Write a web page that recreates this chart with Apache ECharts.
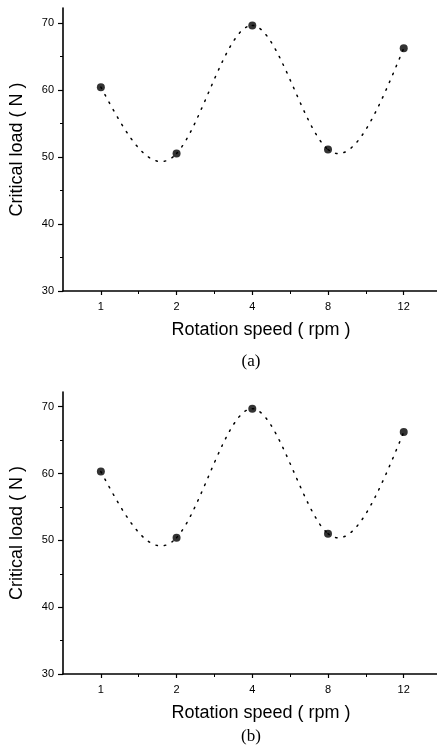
<!DOCTYPE html>
<html>
<head>
<meta charset="utf-8">
<script src="https://cdn.jsdelivr.net/npm/echarts@6/dist/echarts.min.js"></script>
<style>
html,body{margin:0;padding:0;background:#fff;}
#c{width:437px;height:755px;}
</style>
</head>
<body>
<div id="c"></div>
<script>
// ---- data ----
const categories = ['1', '2', '4', '8', '12'];
const loadA = [60.4, 50.5, 69.6, 51.1, 66.2];
const loadB = [60.3, 50.4, 69.7, 51.0, 66.2];
const yTicks = [30, 40, 50, 60, 70];
const yMinor = [35, 45, 55, 65];
const captions = ['(a)', '(b)'];
const xName = 'Rotation speed ( rpm )';
const yName = 'Critical load ( N )';

const catIdx = categories.map((c, i) => i);
const halfIdx = categories.map((c, i) => i + 0.5);

// natural cubic spline (uniform spacing h = 1) -> Bezier control points in data space
function splineCtrl(y) {
  const n = y.length;
  const M = new Array(n).fill(0);
  const a = [], b = [], c = [], d = [];
  for (let i = 1; i < n - 1; i++) {
    a.push(1); b.push(4); c.push(1); d.push(6 * (y[i + 1] - 2 * y[i] + y[i - 1]));
  }
  const m = d.length;
  for (let i = 1; i < m; i++) {
    const w = a[i] / b[i - 1];
    b[i] -= w * c[i - 1];
    d[i] -= w * d[i - 1];
  }
  const sol = new Array(m);
  for (let i = m - 1; i >= 0; i--) {
    sol[i] = (d[i] - (i < m - 1 ? c[i] * sol[i + 1] : 0)) / b[i];
  }
  for (let i = 0; i < m; i++) M[i + 1] = sol[i];
  const segs = [];
  for (let i = 0; i < n - 1; i++) {
    const s = y[i + 1] - y[i];
    const d0 = s - (2 * M[i] + M[i + 1]) / 6;
    const d1 = s + (M[i] + 2 * M[i + 1]) / 6;
    segs.push([[i + 1 / 3, y[i] + d0 / 3], [i + 2 / 3, y[i + 1] - d1 / 3]]);
  }
  return segs;
}

const chart = echarts.init(document.getElementById('c'), null, {renderer: 'canvas'});

const grids = [
  {left: 63, top: 8, width: 396, height: 283, outerBoundsMode: 'none', containLabel: false},
  {left: 63, top: 392, width: 396, height: 282, outerBoundsMode: 'none', containLabel: false}
];
const font = 'Liberation Sans';
const xMin = -0.5, xMax = 4.73;

const xAxes = [], yAxes = [], series = [];
[loadA, loadB].forEach((data, g) => {
  xAxes.push({
    type: 'value', gridIndex: g, min: xMin, max: xMax, position: 'bottom',
    name: xName, nameLocation: 'middle', nameGap: 30,
    nameTextStyle: {fontFamily: font, fontSize: 18, color: '#000'},
    axisLine: {show: true, onZero: false, lineStyle: {color: '#000', width: 1.6}},
    axisTick: {show: true, customValues: catIdx, length: 4, lineStyle: {color: '#000', width: 1.2}},
    axisLabel: {customValues: catIdx, margin: 10, fontFamily: font, fontSize: 11, color: '#000',
      formatter: v => categories[Math.round(v)]},
    splitLine: {show: false}
  });
  xAxes.push({
    type: 'value', gridIndex: g, min: xMin, max: xMax, position: 'bottom',
    axisLine: {show: false, onZero: false},
    axisTick: {show: true, customValues: halfIdx, length: 3, lineStyle: {color: '#000', width: 1}},
    axisLabel: {show: false},
    splitLine: {show: false}
  });
  yAxes.push({
    type: 'value', gridIndex: g, min: 30, max: 72.2, position: 'left',
    name: yName, nameLocation: 'middle', nameGap: 37,
    nameTextStyle: {fontFamily: font, fontSize: 18, color: '#000'},
    axisLine: {show: true, onZero: false, lineStyle: {color: '#000', width: 1.6}},
    axisTick: {show: true, customValues: yTicks, length: 5, lineStyle: {color: '#000', width: 1.2}},
    axisLabel: {customValues: yTicks, margin: 9, fontFamily: font, fontSize: 11, color: '#000'},
    splitLine: {show: false}
  });
  yAxes.push({
    type: 'value', gridIndex: g, min: 30, max: 72.2, position: 'left',
    axisLine: {show: false, onZero: false},
    axisTick: {show: true, customValues: yMinor, length: 3, lineStyle: {color: '#000', width: 1}},
    axisLabel: {show: false},
    splitLine: {show: false}
  });
  const pts = data.map((v, i) => [i, v]);
  const ctrl = splineCtrl(data);
  series.push({
    type: 'custom', xAxisIndex: g * 2, yAxisIndex: g * 2, data: pts, silent: true, clip: false,
    renderItem: function (params, api) {
      const i = params.dataIndex;
      if (i >= data.length - 1) return null;
      const p0 = api.coord([i, data[i]]);
      const p1 = api.coord([i + 1, data[i + 1]]);
      const c0 = api.coord(ctrl[i][0]);
      const c1 = api.coord(ctrl[i][1]);
      return {
        type: 'bezierCurve',
        shape: {x1: p0[0], y1: p0[1], x2: p1[0], y2: p1[1], cpx1: c0[0], cpy1: c0[1], cpx2: c1[0], cpy2: c1[1]},
        style: {stroke: '#000', fill: null, lineWidth: 1.5, lineDash: [1.5, 7], lineCap: 'round'}
      };
    }
  });
  series.push({
    type: 'scatter', xAxisIndex: g * 2, yAxisIndex: g * 2, data: pts,
    symbol: 'circle', symbolSize: 8, itemStyle: {color: '#000'}, silent: true, z: 5
  });
});

chart.setOption({
  animation: false,
  backgroundColor: '#fff',
  grid: grids,
  xAxis: xAxes,
  yAxis: yAxes,
  series: series,
  graphic: [
    {type: 'text', x: 251, y: 353, style: {text: captions[0], font: '17px "Liberation Serif"', fill: '#000', align: 'center'}},
    {type: 'text', x: 251, y: 728, style: {text: captions[1], font: '17px "Liberation Serif"', fill: '#000', align: 'center'}}
  ]
});
</script>
</body>
</html>
